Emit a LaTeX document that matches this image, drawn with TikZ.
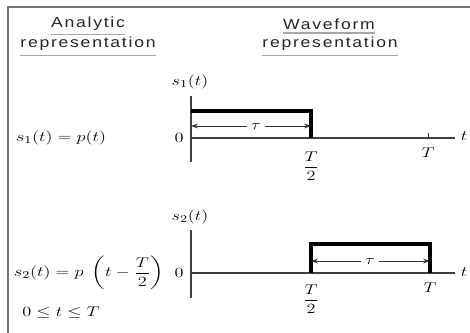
\documentclass[tikz,border=0pt]{standalone}
\usepackage{amsmath}
\usepackage{fontspec}
\newfontfamily\headfont[LetterSpace=10]{Liberation Sans}
\usetikzlibrary{arrows.meta}
\newcommand\wid[1]{\scalebox{1.3}[1]{#1}}
\tikzset{
  frame/.style={draw=black!55, line width=1.6pt},
  head/.style={font=\headfont\fontsize{12.5}{14}\selectfont, text=black!85, inner sep=0pt},
  uline/.style={draw=black!35, line width=1.2pt},
  mth/.style={font=\fontsize{13}{15}\selectfont, inner sep=0pt, text=black},
  axis/.style={draw=black!75, line width=0.9pt},
  pulse/.style={draw=black, line width=2.6pt, line join=miter},
  dim/.style={draw=black!80, line width=0.7pt, -{Stealth[length=6pt,width=4pt]}},
}
\begin{document}
\begin{tikzpicture}[x=0.03cm, y=-0.03cm]
\useasboundingbox (0,0) rectangle (470,333);
% frame
\draw[frame] (8,333) -- (8,7) -- (470,7);
% headings
\node[head] (h1) at (88,24) {\scalebox{1.2}[1]{Analytic}};
\node[head] (h2) at (88,44) {\scalebox{1.2}[1]{representation}};
\node[head] (h3) at (329,24) {\scalebox{1.2}[1]{Waveform}};
\node[head] (h4) at (330,44) {\scalebox{1.2}[1]{representation}};
\draw[uline] ([yshift=-3pt]h1.south west) -- ([yshift=-3pt]h1.south east);
\draw[uline] ([yshift=-4pt]h2.south west) -- ([yshift=-4pt]h2.south east);
\draw[uline] ([yshift=-3pt]h3.south west) -- ([yshift=-3pt]h3.south east);
\draw[uline] ([yshift=-4pt]h4.south west) -- ([yshift=-4pt]h4.south east);

% ---------- graph 1 ----------
\coordinate (o1) at (191,138);
\coordinate (v1t) at (191,96);
\coordinate (v1b) at (191,162);
\coordinate (x1e) at (455,138);
\coordinate (p1a) at (191,111);
\coordinate (p1b) at (311,111);
\coordinate (p1c) at (311,138);
\coordinate (a1l) at (191,126);
\coordinate (a1r) at (311,126);
\coordinate (k1a) at (428,133);
\coordinate (k1b) at (428,138);
\draw[axis] (v1t) -- (v1b);
\draw[axis] (o1) -- (x1e);
\draw[axis, line width=0.5pt] (k1a) -- (k1b);
\draw[pulse] (p1a) -- (p1b) -- (p1c);
\node[mth, fill=white, inner xsep=3pt] (tau1) at (256,126) {\wid{$\tau$}};
\draw[dim] (tau1.west) -- (a1l);
\draw[dim] (tau1.east) -- (a1r);
\node[mth] (s1) at (190,82) {\wid{$s_1(t)$}};
\node[mth] (z1) at (179,138) {\wid{$0$}};
\node[mth] (t1) at (464,136) {\wid{$t$}};
\node[mth] (h1lab) at (311,166) {\wid{$\dfrac{T}{2}$}};
\node[mth] (T1) at (428,153) {\wid{$T$}};
\node[mth] (f1) at (61,138) {\wid{$s_1(t) = p(t)$}};

% ---------- graph 2 ----------
\coordinate (o2) at (191,273);
\coordinate (v2t) at (191,230);
\coordinate (v2b) at (191,298);
\coordinate (x2e) at (455,273);
\coordinate (p2a) at (311,273);
\coordinate (p2b) at (311,244);
\coordinate (p2c) at (430,244);
\coordinate (p2d) at (430,273);
\coordinate (a2l) at (311,261);
\coordinate (a2r) at (430,261);
\draw[axis] (v2t) -- (v2b);
\draw[axis] (o2) -- (x2e);
\draw[pulse] (p2a) -- (p2b) -- (p2c) -- (p2d);
\node[mth, fill=white, inner xsep=3pt] (tau2) at (370,261) {\wid{$\tau$}};
\draw[dim] (tau2.west) -- (a2l);
\draw[dim] (tau2.east) -- (a2r);
\node[mth] (s2) at (190,217) {\wid{$s_2(t)$}};
\node[mth] (z2) at (179,273) {\wid{$0$}};
\node[mth] (t2) at (464,272) {\wid{$t$}};
\node[mth] (h2lab) at (311,299) {\wid{$\dfrac{T}{2}$}};
\node[mth] (T2) at (430,288) {\wid{$T$}};
\node[mth] (f2) at (89,273) {\wid{$s_2(t) = p\;\left(t - \dfrac{T}{2}\right)$}};
\node[mth] (f3) at (61,313) {\wid{$0 \le t \le T$}};
\end{tikzpicture}
\end{document}
